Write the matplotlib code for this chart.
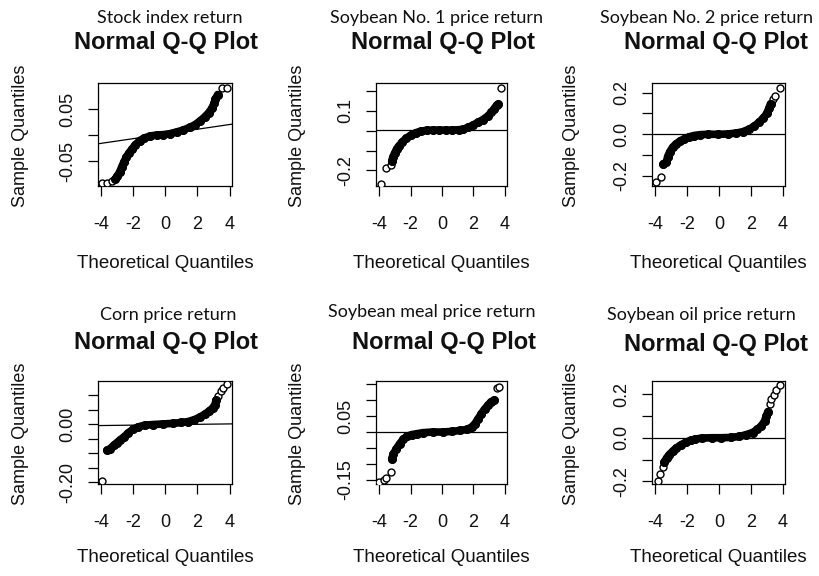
import matplotlib
matplotlib.use('Agg')
import matplotlib.pyplot as plt

# panel captions (above the R titles)
captions = ['Stock index return', 'Soybean No. 1 price return', 'Soybean No. 2 price return',
            'Corn price return', 'Soybean meal price return', 'Soybean oil price return']

# theoretical / sample quantiles
stock_x = [-3.96, -3.62, -3.35, -3.12, -3.00, -2.85, -2.73, -2.59, -2.44, -2.28, -2.07, -1.87,
           -1.60, -1.31, -0.94, -0.53, -0.12, 0.29, 0.70, 1.11, 1.52, 1.83, 2.14, 2.44, 2.69,
           2.90, 3.04, 3.12, 3.26, 3.55, 3.84]
stock_y = [-0.0917, -0.0905, -0.0875, -0.083, -0.078, -0.070, -0.061, -0.051, -0.042, -0.034,
           -0.0255, -0.018, -0.010, -0.005, -0.0013, 0.0006, 0.0013, 0.0032, 0.0064, 0.010,
           0.0153, 0.020, 0.027, 0.035, 0.043, 0.052, 0.062, 0.070, 0.078, 0.090, 0.091]

soy1_x = [-3.86, -3.55, -3.24, -3.20, -3.12, -3.02, -2.89, -2.73, -2.52, -2.26, -1.97, -1.66,
          -1.35, -0.98, -0.57, -0.16, 0.25, 0.66, 1.07, 1.37, 1.68, 1.99, 2.30, 2.61, 2.91,
          3.16, 3.32, 3.49, 3.57, 3.75]
soy1_y = [-0.266, -0.185, -0.172, -0.153, -0.131, -0.114, -0.092, -0.075, -0.056, -0.037,
          -0.022, -0.010, -0.002, 0.002, 0.003, 0.003, 0.003, 0.003, 0.005, 0.008, 0.017,
          0.029, 0.042, 0.056, 0.073, 0.093, 0.110, 0.129, 0.132, 0.217]

soy2_x = [-3.94, -3.63, -3.49, -3.30, -3.22, -3.08, -2.91, -2.71, -2.46, -2.19, -1.89, -1.58,
          -1.17, -0.66, -0.04, 0.57, 1.09, 1.50, 1.91, 2.22, 2.52, 2.79, 3.00, 3.14, 3.24,
          3.38, 3.55, 3.86]
soy2_y = [-0.229, -0.204, -0.141, -0.135, -0.107, -0.083, -0.063, -0.047, -0.033, -0.022,
          -0.0125, -0.006, -0.0016, 0.0, 0.0, 0.0016, 0.006, 0.0125, 0.025, 0.039, 0.058,
          0.078, 0.100, 0.125, 0.147, 0.168, 0.184, 0.223]

corn_x = [-3.95, -3.64, -3.44, -3.23, -3.02, -2.82, -2.57, -2.30, -2.00, -1.69, -1.28, -0.76,
          -0.14, 0.47, 0.99, 1.40, 1.81, 2.16, 2.49, 2.74, 2.94, 3.09, 3.15, 3.29, 3.46, 3.60,
          3.81]
corn_y = [-0.197, -0.090, -0.084, -0.073, -0.063, -0.054, -0.043, -0.029, -0.017, -0.009,
          -0.003, -0.001, 0.001, 0.003, 0.006, 0.009, 0.016, 0.025, 0.036, 0.046, 0.056,
          0.068, 0.082, 0.097, 0.116, 0.125, 0.139]

meal_x = [-3.98, -3.71, -3.57, -3.26, -3.20, -3.09, -2.91, -2.70, -2.47, -2.23, -1.92, -1.57,
          -1.20, -0.58, 0.04, 0.66, 1.18, 1.59, 1.90, 2.10, 2.31, 2.52, 2.72, 2.93, 3.13,
          3.34, 3.51, 3.65]
meal_y = [-0.156, -0.149, -0.145, -0.126, -0.084, -0.068, -0.053, -0.037, -0.023, -0.013,
          -0.008, -0.005, -0.002, 0.0, 0.0, 0.002, 0.005, 0.008, 0.016, 0.026, 0.042, 0.058,
          0.072, 0.084, 0.095, 0.100, 0.137, 0.142]

oil_x = [-3.84, -3.69, -3.53, -3.43, -3.28, -3.12, -2.91, -2.67, -2.40, -2.09, -1.78, -1.48,
         -1.07, -0.45, 0.16, 0.78, 1.29, 1.70, 2.11, 2.42, 2.67, 2.87, 2.97, 3.08, 3.18,
         3.28, 3.45, 3.61, 3.82]
oil_y = [-0.198, -0.165, -0.132, -0.112, -0.092, -0.077, -0.062, -0.047, -0.033, -0.021,
         -0.012, -0.006, -0.0015, 0.0, 0.0, 0.0015, 0.006, 0.014, 0.024, 0.038, 0.055, 0.077,
         0.100, 0.120, 0.153, 0.176, 0.198, 0.221, 0.241]

# isolated points at the low / high end (rest overlaps into a solid band)
tails = [(3, 2), (3, 1), (2, 3), (1, 4), (4, 2), (3, 5)]

# qqline: intercept, slope
line_a = [0.0026, 0.004, 0.0, -0.0017, 0.0, 0.0]
line_b = [0.0045, 0.0, 0.0, 0.0007, 0.0, 0.0]

y_limits = [(-0.097, 0.100), (-0.278, 0.240), (-0.248, 0.246),
            (-0.206, 0.149), (-0.163, 0.160), (-0.212, 0.260)]
y_ticks = [[-0.05, 0.0, 0.05],
           [-0.2, -0.1, 0.0, 0.1, 0.2],
           [-0.2, -0.1, 0.0, 0.1, 0.2],
           [-0.20, -0.15, -0.10, -0.05, 0.0, 0.05, 0.10],
           [-0.15, -0.10, -0.05, 0.0, 0.05, 0.10, 0.15],
           [-0.2, -0.1, 0.0, 0.1, 0.2]]
y_ticklabels = [['-0.05', '', '0.05'],
                ['-0.2', '', '', '0.1', ''],
                ['-0.2', '', '0.0', '', '0.2'],
                ['-0.20', '', '', '', '0.00', '', ''],
                ['-0.15', '', '', '', '0.05', '', ''],
                ['-0.2', '', '0.0', '', '0.2']]
x_ticks = [-4, -2, 0, 2, 4]
x_ticklabels = ['-4', '-2', '0', '2', '4']

series_x = [stock_x, soy1_x, soy2_x, corn_x, meal_x, oil_x]
series_y = [stock_y, soy1_y, soy2_y, corn_y, meal_y, oil_y]

# layout in pixels
W, H = 819, 576
col_px = [(98, 232), (376, 507), (652, 785)]
row_px = [(83, 186), (381, 484)]
cap_x = [170, 437, 707, 168, 432, 701]
cap_y = [18, 18, 18, 315, 312, 315]
title_x = [166, 443, 716, 166, 444, 716]
title_y = [43, 43, 43, 342, 343, 345]
ylab_x = [21, 298, 571]
ylab_y = [136, 434]
xlab_y = [263, 558]

sans = 'Liberation Sans'
ink = '#111111'

fig = plt.figure(figsize=(W / 100, H / 100), dpi=100)

for i in range(6):
    r, c = divmod(i, 3)
    x0, x1 = col_px[c]
    y0, y1 = row_px[r]
    ax = fig.add_axes([x0 / W, 1 - y1 / H, (x1 - x0) / W, (y1 - y0) / H])

    qx, qy = series_x[i], series_y[i]
    lo, hi = tails[i]
    n = len(qx)
    # dense middle: overlapping circles read as a solid band
    ax.plot(qx[lo:n - hi], qy[lo:n - hi], color='black', lw=5.5,
            solid_capstyle='round', solid_joinstyle='round', zorder=2)
    ax.plot(qx, qy, 'o', ms=5, mfc='white', mec='black', mew=1.0, zorder=3)
    ax.plot(qx[lo:n - hi], qy[lo:n - hi], 'o', ms=5.5, mfc='black', mec='black',
            mew=1.0, zorder=3)

    ax.axline((0, line_a[i]), slope=line_b[i], color='black', lw=0.9, zorder=1)

    ax.set_xlim(-4.2, 4.15)
    ax.set_ylim(*y_limits[i])
    ax.set_xticks(x_ticks)
    ax.set_xticklabels(x_ticklabels, fontfamily=sans, fontsize=13, color=ink)
    ax.set_yticks(y_ticks[i])
    ax.set_yticklabels(y_ticklabels[i], fontfamily=sans, fontsize=13, color=ink,
                       rotation=90, va='center')
    ax.tick_params(axis='both', length=7.5, width=0.9, color='black')
    ax.tick_params(axis='x', pad=14)
    ax.tick_params(axis='y', pad=8)
    for sp in ax.spines.values():
        sp.set_linewidth(0.9)

    xc = (x0 + x1) / 2
    fig.text(cap_x[i] / W, 1 - cap_y[i] / H, captions[i], ha='center', va='center',
             fontfamily='Lato', fontsize=13, color=ink)
    fig.text(title_x[i] / W, 1 - title_y[i] / H, 'Normal Q-Q Plot', ha='center',
             va='center', fontfamily=sans, fontweight='bold', fontsize=17, color=ink)
    fig.text(ylab_x[c] / W, 1 - ylab_y[r] / H, 'Sample Quantiles', ha='center',
             va='center', rotation=90, fontfamily=sans, fontsize=13, color=ink)
    fig.text(xc / W, 1 - xlab_y[r] / H, 'Theoretical Quantiles', ha='center',
             va='center', fontfamily=sans, fontsize=13.5, color=ink)

fig.savefig('out.png', dpi=100, facecolor='white')
